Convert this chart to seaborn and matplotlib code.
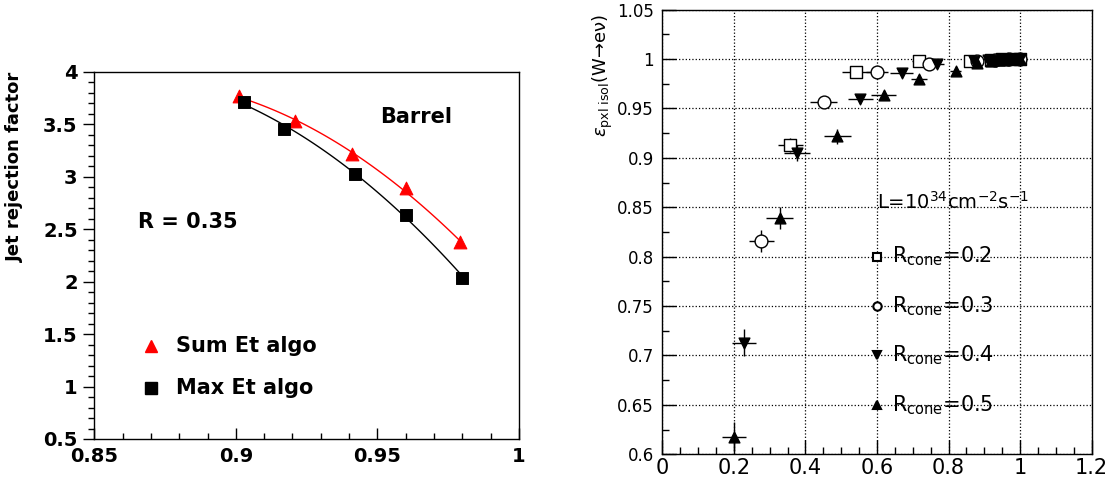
import numpy as np
import pandas as pd
import matplotlib
matplotlib.use("Agg")
import matplotlib.pyplot as plt
import seaborn as sns
from matplotlib.ticker import MultipleLocator, FuncFormatter

# ---------------- data: left panel ----------------
eff_sum = [0.901, 0.921, 0.941, 0.960, 0.979]
rej_sum = [3.77, 3.53, 3.22, 2.89, 2.38]
eff_max = [0.903, 0.917, 0.942, 0.960, 0.980]
rej_max = [3.71, 3.46, 3.03, 2.64, 2.04]
left_series = ["Sum Et algo", "Max Et algo"]

# ---------------- data: right panel ----------------
r02_x = [0.358, 0.541, 0.718, 0.860, 0.920, 0.950, 0.980, 1.000]
r02_y = [0.913, 0.9865, 0.998, 0.998, 0.999, 1.000, 1.000, 1.000]
r02_xe = [0.036, 0.039, 0.020, 0.015, 0.015, 0.012, 0.010, 0.005]
r02_ye = [0.007, 0.003, 0.002, 0.001, 0.001, 0.001, 0.001, 0.001]

r03_x = [0.276, 0.451, 0.600, 0.745, 0.879, 0.930, 0.970, 1.000]
r03_y = [0.816, 0.9565, 0.9865, 0.995, 0.998, 0.999, 1.000, 1.000]
r03_xe = [0.035, 0.038, 0.030, 0.020, 0.015, 0.012, 0.010, 0.005]
r03_ye = [0.011, 0.004, 0.002, 0.002, 0.001, 0.001, 0.001, 0.001]

r04_x = [0.229, 0.376, 0.553, 0.669, 0.767, 0.870, 0.910, 0.930, 0.950, 0.965, 0.980, 0.990, 1.000]
r04_y = [0.713, 0.9045, 0.960, 0.986, 0.995, 0.998, 0.999, 0.999, 1.000, 1.000, 1.000, 1.000, 1.000]
r04_xe = [0.034, 0.036, 0.035, 0.033, 0.020, 0.015, 0.012, 0.010, 0.010, 0.010, 0.008, 0.008, 0.005]
r04_ye = [0.0135, 0.008, 0.004, 0.002, 0.002, 0.001, 0.001, 0.001, 0.001, 0.001, 0.001, 0.001, 0.001]

r05_x = [0.201, 0.328, 0.489, 0.619, 0.717, 0.820, 0.879, 0.920, 0.940, 0.955, 0.970, 0.985, 0.995, 1.000]
r05_y = [0.618, 0.839, 0.922, 0.9635, 0.9795, 0.988, 0.9955, 0.998, 0.999, 0.999, 1.000, 1.000, 1.000, 1.000]
r05_xe = [0.033, 0.037, 0.038, 0.035, 0.023, 0.016, 0.015, 0.012, 0.010, 0.010, 0.010, 0.008, 0.006, 0.005]
r05_ye = [0.015, 0.011, 0.0075, 0.004, 0.003, 0.002, 0.001, 0.001, 0.001, 0.001, 0.001, 0.001, 0.001, 0.001]

cone_labels = ["0.2", "0.3", "0.4", "0.5"]

# ---------------- style ----------------
sns.set_theme(style="ticks")
plt.rcParams['font.family'] = ['DejaVu Sans']
plt.rcParams['axes.edgecolor'] = 'black'
plt.rcParams['axes.linewidth'] = 1.0
plt.rcParams['xtick.color'] = 'black'
plt.rcParams['ytick.color'] = 'black'
plt.rcParams['text.color'] = 'black'
plt.rcParams['axes.labelcolor'] = 'black'
plt.rcParams['xtick.labelcolor'] = 'black'
plt.rcParams['ytick.labelcolor'] = 'black'

fig = plt.figure(figsize=(11.12, 4.78), dpi=100)
fig.patch.set_facecolor('white')

# ================= LEFT PANEL =================
axL = fig.add_axes([0.0848, 0.0816, 0.3819, 0.7678])
axL.set_facecolor('white')

sns.regplot(x=eff_sum, y=rej_sum, order=2, ci=None, scatter=False, truncate=True,
            line_kws=dict(color='red', lw=1.0), ax=axL)
sns.regplot(x=eff_max, y=rej_max, order=2, ci=None, scatter=False, truncate=True,
            line_kws=dict(color='black', lw=1.0), ax=axL)
sns.scatterplot(x=eff_sum, y=rej_sum, marker='^', color='red', edgecolor='red',
                s=85, ax=axL, zorder=3)
sns.scatterplot(x=eff_max, y=rej_max, marker='s', color='black', edgecolor='black',
                s=70, ax=axL, zorder=3)

axL.set_xlim(0.85, 1.0)
axL.set_ylim(0.5, 4.0)
axL.xaxis.set_major_locator(MultipleLocator(0.05))
axL.xaxis.set_minor_locator(MultipleLocator(0.01))
axL.yaxis.set_major_locator(MultipleLocator(0.5))
axL.yaxis.set_minor_locator(MultipleLocator(0.1))
fmt = FuncFormatter(lambda v, p: f"{v:g}")
axL.xaxis.set_major_formatter(fmt)
axL.yaxis.set_major_formatter(fmt)
axL.tick_params(axis='x', which='major', direction='in', length=8, width=1, labelsize=14, pad=6)
axL.tick_params(axis='x', which='minor', direction='in', length=4, width=1)
axL.tick_params(axis='y', which='major', direction='out', length=8, width=1, labelsize=14, pad=4)
axL.tick_params(axis='y', which='minor', direction='out', length=4, width=1)
for lab in axL.get_xticklabels() + axL.get_yticklabels():
    lab.set_fontweight('bold')
for s in axL.spines.values():
    s.set_visible(True)
    s.set_color('black')

axL.set_ylabel("Jet rejection factor", fontsize=13, fontweight='bold', loc='top')
axL.yaxis.set_label_coords(-0.165, 1.0)

axL.text(0.951, 3.57, "Barrel", fontsize=15, fontweight='bold', va='center', ha='left')
axL.text(0.8655, 2.57, "R = 0.35", fontsize=15, fontweight='bold', va='center', ha='left')
# legend
axL.plot([0.870], [1.387], marker='^', color='red', ms=8, ls='none')
axL.text(0.879, 1.387, left_series[0], fontsize=15, fontweight='bold', va='center', ha='left')
axL.plot([0.870], [0.984], marker='s', color='black', ms=8, ls='none')
axL.text(0.879, 0.984, left_series[1], fontsize=15, fontweight='bold', va='center', ha='left')

# ================= RIGHT PANEL =================
axR = fig.add_axes([0.5956, 0.0496, 0.3861, 0.9303])
axR.set_facecolor('white')

series = [
    (r02_x, r02_y, r02_xe, r02_ye, 's', 'white', 75),
    (r03_x, r03_y, r03_xe, r03_ye, 'o', 'white', 85),
    (r04_x, r04_y, r04_xe, r04_ye, 'v', 'black', 60),
    (r05_x, r05_y, r05_xe, r05_ye, '^', 'black', 60),
]
for xs, ys, xe, ye, mk, fc, sz in series:
    axR.errorbar(xs, ys, xerr=xe, yerr=ye, fmt='none', ecolor='black', elinewidth=1.0,
                 capsize=0, zorder=2)
    sns.scatterplot(x=xs, y=ys, marker=mk, color=fc, edgecolor='black', linewidth=1.0,
                    s=sz, ax=axR, zorder=3)

axR.set_xlim(0, 1.2)
axR.set_ylim(0.6, 1.05)
axR.xaxis.set_major_locator(MultipleLocator(0.2))
axR.xaxis.set_minor_locator(MultipleLocator(0.05))
axR.yaxis.set_major_locator(MultipleLocator(0.05))
axR.yaxis.set_minor_locator(MultipleLocator(0.025))
axR.xaxis.set_major_formatter(fmt)
axR.yaxis.set_major_formatter(fmt)
axR.grid(True, which='major', ls=':', color='black', lw=0.9)
axR.set_axisbelow(True)
axR.tick_params(axis='x', which='major', direction='in', length=10, width=1, labelsize=15, pad=3)
axR.tick_params(axis='x', which='minor', direction='in', length=5, width=1)
axR.tick_params(axis='y', which='major', direction='in', length=10, width=1, labelsize=12, pad=6)
axR.tick_params(axis='y', which='minor', direction='in', length=5, width=1)
for s in axR.spines.values():
    s.set_visible(True)
    s.set_color('black')

axR.set_ylabel(r"$\varepsilon_{\rm pxl\ isol}$(W→eν)", fontsize=13, loc='top')
axR.yaxis.set_label_coords(-0.11, 0.99)

axR.text(0.6, 0.855, r"L=10$^{34}$cm$^{-2}$s$^{-1}$", fontsize=14, va='center', ha='left')
leg_y = [0.8, 0.75, 0.7, 0.65]
leg_m = [('s', 'white'), ('o', 'white'), ('v', 'black'), ('^', 'black')]
for yy, (mk, fc), lab in zip(leg_y, leg_m, cone_labels):
    axR.plot([0.6], [yy], marker=mk, mfc=fc, mec='black', mew=1.5, ms=6, ls='none', zorder=4)
    axR.text(0.643, yy, r"R$_{\rm cone}$=" + lab, fontsize=15, va='center', ha='left')

fig.savefig("out.png", dpi=100, facecolor='white')
